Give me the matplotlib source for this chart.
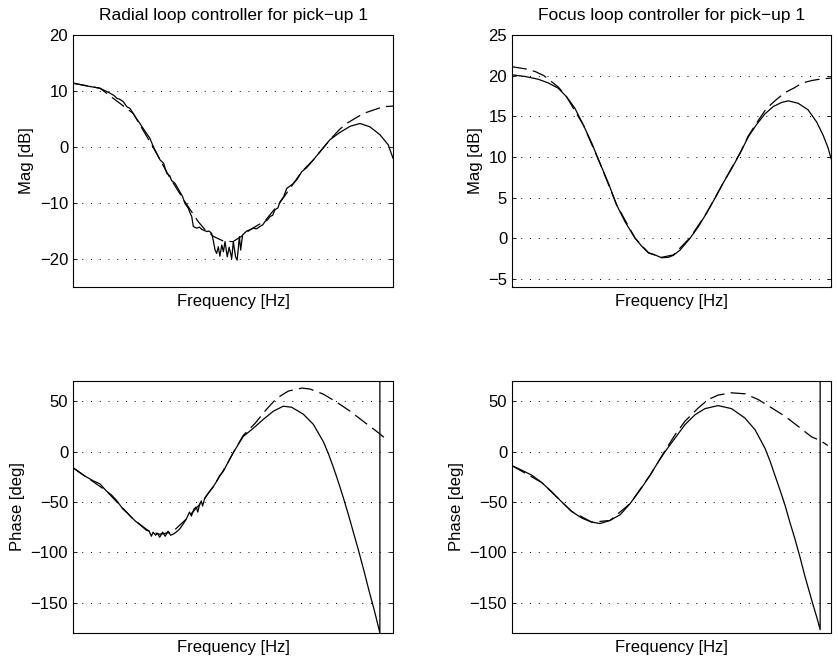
import matplotlib
matplotlib.use("Agg")
import matplotlib.pyplot as plt

plt.rcParams['font.family'] = ['Liberation Sans', 'DejaVu Sans']
plt.rcParams['font.size'] = 12

# relative position along the (log) frequency axis, 0 = left edge, 1 = right edge
# --- radial loop, magnitude [dB] ---
radial_mag_meas_x = [0.000, 0.043, 0.084, 0.116, 0.128, 0.137, 0.147, 0.157, 0.168, 0.178,
                     0.188, 0.198, 0.209, 0.230, 0.240, 0.251, 0.272, 0.283, 0.293, 0.303,
                     0.308, 0.313, 0.319, 0.334, 0.342, 0.350, 0.360, 0.366, 0.371, 0.376,
                     0.387, 0.395, 0.402, 0.410, 0.418, 0.425, 0.433, 0.438, 0.444, 0.449,
                     0.454, 0.459, 0.465, 0.470, 0.475, 0.482, 0.488, 0.496, 0.501, 0.508,
                     0.513, 0.520, 0.524, 0.530, 0.543, 0.553, 0.563, 0.574, 0.584, 0.593,
                     0.600, 0.608, 0.616, 0.624, 0.631, 0.640, 0.647, 0.658, 0.668, 0.680,
                     0.689, 0.700, 0.715, 0.730, 0.751, 0.777, 0.803, 0.834, 0.866, 0.897,
                     0.928, 0.959, 0.985, 1.000]
radial_mag_meas = [11.4, 10.9, 10.5, 9.6, 9.2, 8.7, 8.5, 8.1, 7.2, 6.9,
                   6.0, 5.1, 4.2, 2.4, 1.6, 0.05, -2.3, -2.9, -4.7, -5.2,
                   -6.0, -6.2, -6.5, -8.0, -8.8, -10.1, -10.9, -11.8, -12.4, -14.2,
                   -14.5, -14.3, -14.7, -14.9, -15.1, -15.0, -15.4, -16.6, -18.4, -19.0,
                   -17.8, -19.5, -17.5, -18.7, -16.9, -19.6, -17.9, -19.9, -16.9, -19.6,
                   -20.2, -16.0, -18.4, -15.7, -15.0, -14.8, -14.5, -14.6, -14.2, -13.9,
                   -13.3, -13.0, -12.4, -12.2, -11.2, -10.9, -9.8, -8.9, -7.4, -6.9,
                   -6.5, -5.8, -4.4, -3.7, -2.3, -0.5, 1.3, 2.6, 3.7, 4.2,
                   3.6, 2.2, 0.4, -2.0]
radial_mag_model_x = [0.000, 0.084, 0.188, 0.250, 0.303, 0.350, 0.391, 0.410, 0.440, 0.470,
                      0.500, 0.525, 0.553, 0.600, 0.647, 0.715, 0.751, 0.803, 0.834, 0.858,
                      0.881, 0.908, 0.939, 0.970, 1.000]
radial_mag_model = [11.4, 10.5, 6.0, 0.0, -5.5, -9.8, -13.3, -14.6, -16.0, -16.8,
                    -16.9, -16.0, -14.8, -13.2, -9.9, -4.4, -2.3, 1.3, 3.2, 4.3,
                    5.1, 6.0, 6.6, 7.2, 7.3]

# --- radial loop, phase [deg] ---
radial_ph_meas_x = [0.000, 0.030, 0.063, 0.084, 0.104, 0.120, 0.135, 0.156, 0.170, 0.182,
                    0.195, 0.208, 0.229, 0.238, 0.245, 0.250, 0.258, 0.264, 0.271, 0.280,
                    0.288, 0.297, 0.305, 0.313, 0.322, 0.333, 0.344, 0.354, 0.364, 0.370,
                    0.378, 0.385, 0.390, 0.396, 0.401, 0.405, 0.411, 0.417, 0.428, 0.438,
                    0.448, 0.458, 0.469, 0.479, 0.491, 0.506, 0.532, 0.563, 0.595, 0.626,
                    0.657, 0.683, 0.720, 0.751, 0.782, 0.798, 0.813, 0.829, 0.845, 0.861,
                    0.877, 0.893, 0.909, 0.925, 0.942, 0.959, 0.959, 1.000]
radial_ph_meas = [-16, -23, -29, -32, -39, -43, -48, -57, -61, -65,
                  -69, -72, -77, -79, -84, -80, -83, -81, -85, -80,
                  -84, -79, -83, -82, -80, -77, -72, -67, -60, -64,
                  -57, -55, -60, -52, -49, -54, -47, -44, -39, -35,
                  -30, -24, -20, -14, -6.7, 1.6, 15, 23, 32, 40,
                  45, 44, 37, 27, 10, -2, -15, -30, -46, -63,
                  -81, -99, -118, -138, -158, -180, 180, 165]
radial_ph_model_x = [0.000, 0.104, 0.182, 0.229, 0.270, 0.310, 0.354, 0.400, 0.438, 0.479,
                     0.506, 0.532, 0.569, 0.605, 0.637, 0.673, 0.715, 0.741, 0.782, 0.824,
                     0.866, 0.907, 0.949, 0.980]
radial_ph_model = [-16, -39, -65, -78, -82, -80, -67, -51, -35, -14,
                   2, 16, 28, 42, 53, 60, 63, 62, 57, 49,
                   40, 30, 20, 12]

# --- focus loop, magnitude [dB] ---
focus_mag_meas_x = [0.000, 0.041, 0.083, 0.114, 0.145, 0.171, 0.197, 0.224, 0.250, 0.276,
                    0.302, 0.328, 0.354, 0.386, 0.407, 0.428, 0.448, 0.469, 0.490, 0.506,
                    0.527, 0.558, 0.584, 0.610, 0.636, 0.662, 0.689, 0.715, 0.741, 0.767,
                    0.793, 0.819, 0.845, 0.866, 0.897, 0.928, 0.955, 0.975, 0.991, 1.000]
focus_mag_meas = [20.1, 19.9, 19.55, 19.1, 18.45, 17.4, 16.0, 13.9, 11.7, 9.2,
                  6.8, 4.1, 2.05, 0.0, -1.0, -1.8, -2.05, -2.4, -2.35, -2.1,
                  -1.45, 0.0, 1.4, 3.1, 4.9, 6.8, 8.6, 10.45, 12.5, 14.0,
                  15.3, 16.2, 16.7, 16.9, 16.6, 15.8, 14.3, 12.7, 11.1, 9.8]
focus_mag_model_x = [0.000, 0.047, 0.073, 0.100, 0.145, 0.171, 0.224, 0.276, 0.328, 0.386,
                     0.428, 0.469, 0.506, 0.558, 0.610, 0.662, 0.715, 0.741, 0.767, 0.793,
                     0.810, 0.830, 0.855, 0.885, 0.910, 0.940, 0.970, 1.000]
focus_mag_model = [21.1, 20.8, 20.5, 20.0, 18.6, 17.4, 13.9, 9.2, 4.1, 0.0,
                   -1.8, -2.35, -2.05, 0.05, 3.1, 6.8, 10.5, 12.6, 14.2, 15.7,
                   16.4, 17.1, 17.9, 18.5, 19.1, 19.4, 19.6, 19.7]

# --- focus loop, phase [deg] ---
focus_ph_meas_x = [0.000, 0.030, 0.062, 0.093, 0.125, 0.156, 0.187, 0.219, 0.250, 0.276,
                   0.307, 0.339, 0.370, 0.401, 0.433, 0.459, 0.480, 0.511, 0.542, 0.574,
                   0.605, 0.646, 0.688, 0.730, 0.762, 0.793, 0.809, 0.824, 0.840, 0.856,
                   0.871, 0.887, 0.903, 0.918, 0.932, 0.945, 0.956, 0.966, 0.966, 1.000]
focus_ph_meas = [-14, -18.4, -23.4, -30.7, -40, -50, -59.4, -66, -70, -71.4,
                 -68.4, -62.7, -51.7, -38.4, -23.4, -10, 0, 13.3, 26.6, 36.6,
                 42.6, 45.6, 42.6, 33.3, 21.6, 3.3, -9.5, -23.4, -38, -53.4,
                 -70, -86.7, -105, -123.4, -139, -153.4, -165, -176.7, 180, 165]
focus_ph_model_x = [0.000, 0.093, 0.187, 0.250, 0.307, 0.370, 0.433, 0.480, 0.511, 0.542,
                    0.584, 0.615, 0.646, 0.688, 0.730, 0.772, 0.814, 0.856, 0.897, 0.939,
                    0.966, 0.990]
focus_ph_model = [-14, -30.7, -59.4, -70, -68.4, -51.7, -23.4, 1, 16.6, 30,
                  43.3, 51.6, 56, 58.3, 57.3, 51.6, 43.3, 35, 25, 14.6,
                  11, 6]


def style_axis(ax, ylim, yticks, ylabel, title=None):
    ax.set_xlim(0, 1)
    ax.set_ylim(*ylim)
    ax.set_yticks(yticks)
    ax.set_xticks([])
    ax.tick_params(axis='y', direction='in', length=3, width=0.6, pad=3.5,
                   right=True)
    for y in yticks:
        ax.axhline(y, color='black', linewidth=0.7, linestyle=(0, (1, 8)), zorder=0)
    for sp in ax.spines.values():
        sp.set_linewidth(0.8)
    ax.set_xlabel("Frequency [Hz]", labelpad=5)
    ax.set_ylabel(ylabel)
    if title:
        ax.set_title(title, fontsize=12.5, pad=10.5)


def draw_pair(ax, mx, my, dx, dy):
    ax.plot(dx, dy, color='black', linewidth=0.9, linestyle=(0, (12, 5)))
    ax.plot(mx, my, color='black', linewidth=0.9)


fig = plt.figure(figsize=(8.38, 6.68), dpi=100)
ax1 = fig.add_axes([73 / 838, 1 - 287 / 668, 320 / 838, 252 / 668])
ax2 = fig.add_axes([512 / 838, 1 - 287 / 668, 319 / 838, 252 / 668])
ax3 = fig.add_axes([73 / 838, 1 - 633 / 668, 320 / 838, 252 / 668])
ax4 = fig.add_axes([512 / 838, 1 - 633 / 668, 319 / 838, 252 / 668])

draw_pair(ax1, radial_mag_meas_x, radial_mag_meas, radial_mag_model_x, radial_mag_model)
style_axis(ax1, (-25, 20), [-20, -10, 0, 10, 20], "Mag [dB]",
           "Radial loop controller for pick\u2212up 1")

draw_pair(ax2, focus_mag_meas_x, focus_mag_meas, focus_mag_model_x, focus_mag_model)
style_axis(ax2, (-6, 25), [-5, 0, 5, 10, 15, 20, 25], "Mag [dB]",
           "Focus loop controller for pick\u2212up 1")

draw_pair(ax3, radial_ph_meas_x, radial_ph_meas, radial_ph_model_x, radial_ph_model)
style_axis(ax3, (-180, 70), [-150, -100, -50, 0, 50], "Phase [deg]")

draw_pair(ax4, focus_ph_meas_x, focus_ph_meas, focus_ph_model_x, focus_ph_model)
style_axis(ax4, (-180, 70), [-150, -100, -50, 0, 50], "Phase [deg]")

fig.savefig("out.png", dpi=100)
